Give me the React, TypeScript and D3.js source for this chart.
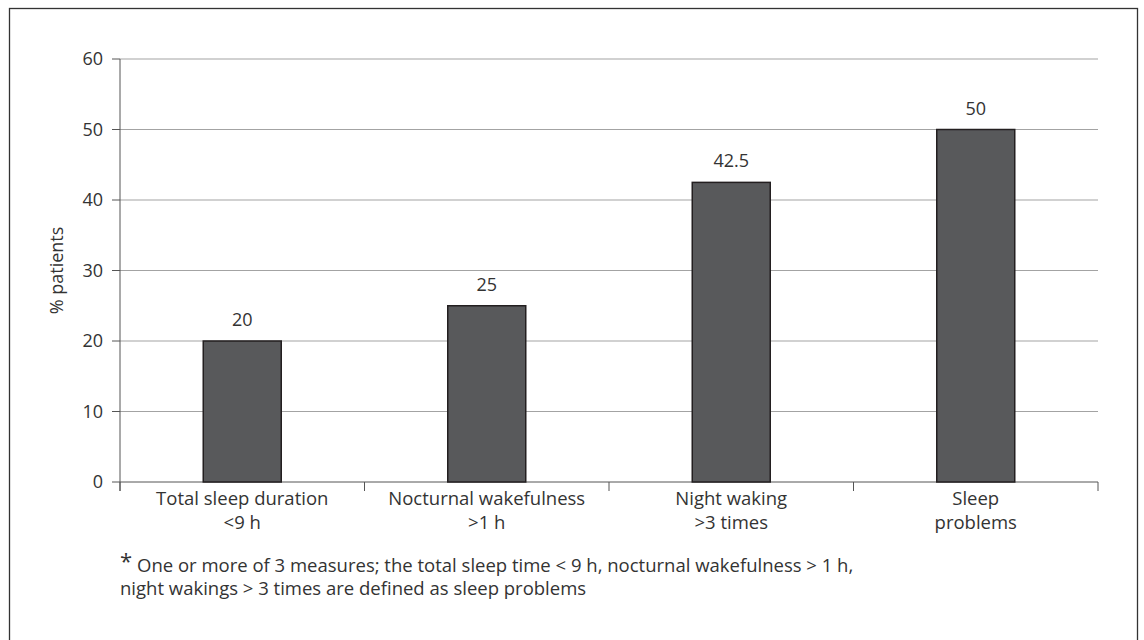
import React from "react";
import * as d3 from "d3";

const categories: string[][] = [
  ["Total sleep duration", "<9 h"],
  ["Nocturnal wakefulness", ">1 h"],
  ["Night waking", ">3 times"],
  ["Sleep", "problems"],
];
const values: number[] = [20, 25, 42.5, 50];
const valueLabels: string[] = ["20", "25", "42.5", "50"];
const yTicks: number[] = [0, 10, 20, 30, 40, 50, 60];
const yLabel = "% patients";
const footLine1 = "One or more of 3 measures; the total sleep time < 9 h, nocturnal wakefulness > 1 h,";
const footLine2 = "night wakings > 3 times are defined as sleep problems";

export default function App() {
  const W = 1144, H = 640;
  const left = 120, right = 1098, top = 59, bottom = 482;
  const font = "'Open Sans', 'Noto Sans', sans-serif";
  const text = "#333";
  const band = d3.scaleBand<number>().domain(d3.range(categories.length)).range([left, right]);
  const y = d3.scaleLinear().domain([0, 60]).range([bottom, top]);
  const barW = 78;
  return (
    <svg width={W} height={H} style={{ position: "absolute", left: 0, top: 0 }} fontFamily={font}>
      <rect x={0} y={0} width={W} height={H} fill="#fff" />
      <rect x={9.5} y={8.5} width={1128} height={640} fill="none" stroke="#333" strokeWidth={1.3} />
      {yTicks.map((t) => (
        <g key={t}>
          {t > 0 && <line x1={left} x2={right} y1={y(t)} y2={y(t)} stroke="#a3a3a3" strokeWidth={1} />}
          <line x1={left - 8} x2={left} y1={y(t)} y2={y(t)} stroke="#555" strokeWidth={1} />
          <text x={left - 17} y={y(t)} dy="0.36em" textAnchor="end" fontSize={18} fill={text}>{t}</text>
        </g>
      ))}
      <line x1={left} x2={left} y1={top} y2={bottom + 9} stroke="#555" strokeWidth={1} />
      <line x1={left} x2={right} y1={bottom} y2={bottom} stroke="#555" strokeWidth={1} />
      {d3.range(categories.length + 1).map((i) => {
        const xx = i < categories.length ? band(i)! : right;
        return <line key={i} x1={xx} x2={xx} y1={bottom} y2={bottom + 9} stroke="#555" strokeWidth={1} />;
      })}
      {values.map((v, i) => {
        const cx = band(i)! + band.bandwidth() / 2;
        return (
          <g key={i}>
            <rect x={cx - barW / 2} y={y(v)} width={barW} height={bottom - y(v)} fill="#58595b" stroke="#231f20" strokeWidth={1.5} />
            <text x={cx} y={y(v) - 15} textAnchor="middle" fontSize={18} fill={text}>{valueLabels[i]}</text>
            {categories[i].map((l, j) => (
              <text key={j} x={cx} y={bottom + 23 + j * 24} textAnchor="middle" fontSize={18.5} fill={text}>{l}</text>
            ))}
          </g>
        );
      })}
      <text transform={`translate(63,${(top + bottom) / 2}) rotate(-90)`} textAnchor="middle" fontSize={18} fill={text}>{yLabel}</text>
      <text x={120} y={569} fontSize={22} fill={text}>*</text>
      <text x={137} y={572} fontSize={18.5} fill={text}>{footLine1}</text>
      <text x={120} y={595} fontSize={18.5} fill={text}>{footLine2}</text>
    </svg>
  );
}
